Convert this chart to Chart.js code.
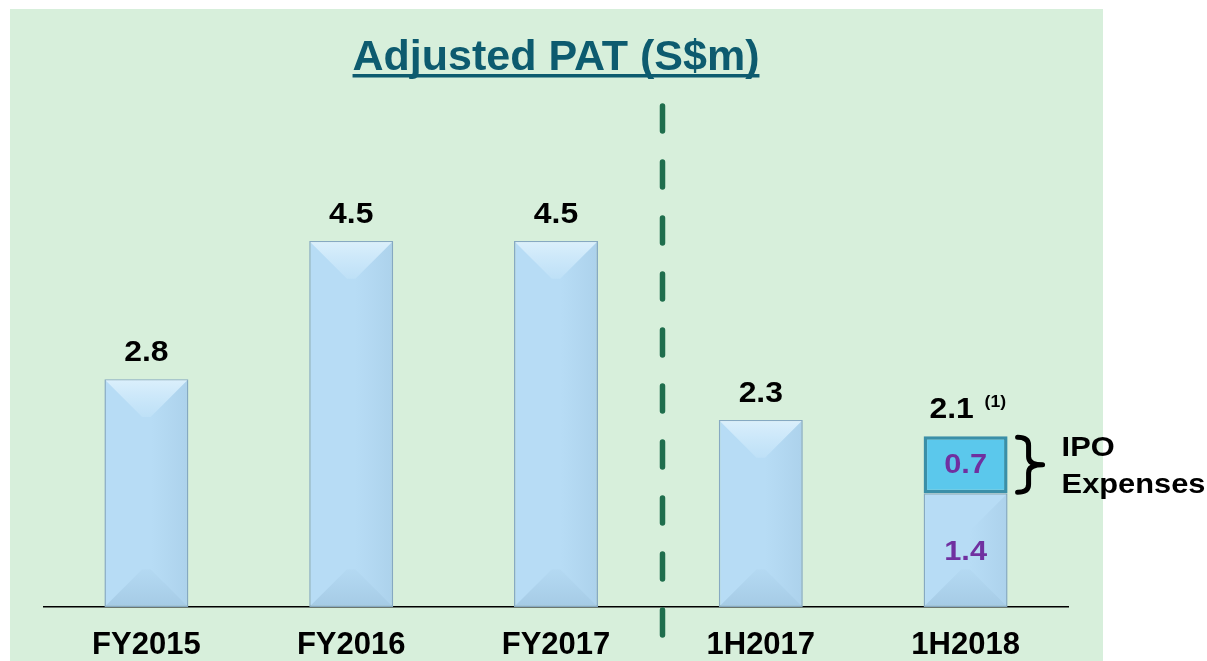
<!DOCTYPE html>
<html><head><meta charset="utf-8">
<script src="https://cdn.jsdelivr.net/npm/chart.js@4"></script>
<style>html,body{margin:0;padding:0;background:#fff;overflow:hidden}#wrap{width:1207px;height:661px;position:relative}</style>
</head><body><div id="wrap"><canvas id="c" width="1207" height="661"></canvas></div>
<script>
const categories = ['FY2015', 'FY2016', 'FY2017', '1H2017', '1H2018'];
const patValues = [2.8, 4.5, 4.5, 2.3, 1.4];
const ipoExpenses = [null, null, null, null, 0.7];
const totalLabels = ['2.8', '4.5', '4.5', '2.3', '2.1'];
const innerLabels = [null, null, null, null, '1.4'];
const ipoLabels = [null, null, null, null, '0.7'];
const titleText = 'Adjusted PAT (S$m)';
const footnoteMark = '(1)';
const bracketText = ['IPO', 'Expenses'];
const yMax = 6;

const FONT = '"Liberation Sans", Arial, sans-serif';
const SX = 1.1;

function wideText(ctx, text, x, y, align) {
  ctx.save();
  ctx.translate(x, y);
  ctx.scale(SX, 1);
  ctx.textAlign = align;
  ctx.fillText(text, 0, 0);
  ctx.restore();
}

const decor = {
  id: 'decor',
  beforeDraw(chart) {
    const ctx = chart.ctx;
    ctx.save();
    ctx.fillStyle = '#ffffff';
    ctx.fillRect(0, 0, chart.width, chart.height);
    ctx.fillStyle = '#d7efdb';
    ctx.fillRect(10, 9, 1093, 652);
    ctx.restore();
  },
  afterDatasetsDraw(chart) {
    const ctx = chart.ctx;
    const meta0 = chart.getDatasetMeta(0);
    ctx.save();
    meta0.data.forEach((bar, i) => {
      const w = bar.width, l = bar.x - w / 2, r = bar.x + w / 2, t = bar.y, b = bar.base;
      const d = w * 0.45;
      if (i !== 4) {
        const g = ctx.createLinearGradient(0, t, 0, t + d);
        g.addColorStop(0, 'rgba(235,248,255,0.7)');
        g.addColorStop(1, 'rgba(220,242,255,0.2)');
        ctx.fillStyle = g;
        ctx.beginPath();
        ctx.moveTo(l + 1, t + 1); ctx.lineTo(r - 1, t + 1); ctx.lineTo(r - d, t + d); ctx.lineTo(l + d, t + d); ctx.closePath();
        ctx.fill();
      }
      const g2 = ctx.createLinearGradient(0, b - d, 0, b);
      g2.addColorStop(0, 'rgba(120,160,190,0.05)');
      g2.addColorStop(1, 'rgba(110,150,180,0.25)');
      ctx.fillStyle = g2;
      ctx.beginPath();
      ctx.moveTo(l + 1, b - 1); ctx.lineTo(r - 1, b - 1); ctx.lineTo(r - d, b - d); ctx.lineTo(l + d, b - d); ctx.closePath();
      ctx.fill();
      const g3 = ctx.createLinearGradient(r - d, 0, r, 0);
      g3.addColorStop(0, 'rgba(120,160,190,0)');
      g3.addColorStop(1, 'rgba(110,150,180,0.15)');
      ctx.fillStyle = g3;
      ctx.beginPath();
      ctx.moveTo(r - 1, t + 1); ctx.lineTo(r - 1, b - 1); ctx.lineTo(r - d, b - d); ctx.lineTo(r - d, t + d); ctx.closePath();
      ctx.fill();
    });
    const xs = chart.scales.x;
    const xd = xs.getPixelForValue(2.52);
    ctx.strokeStyle = '#1f6e4d';
    ctx.lineWidth = 5.5;
    ctx.lineCap = 'round';
    ctx.setLineDash([25, 31]);
    ctx.beginPath();
    ctx.moveTo(xd, 106);
    ctx.lineTo(xd, 640);
    ctx.stroke();
    ctx.setLineDash([]);
    ctx.restore();
  },
  afterDraw(chart) {
    const ctx = chart.ctx;
    const meta0 = chart.getDatasetMeta(0);
    const meta1 = chart.getDatasetMeta(1);
    ctx.save();
    ctx.font = 'bold 43px ' + FONT;
    ctx.fillStyle = '#0d5b6f';
    ctx.textAlign = 'center';
    ctx.textBaseline = 'alphabetic';
    const cx = 556;
    ctx.fillText(titleText, cx, 70);
    const tw = ctx.measureText(titleText).width;
    ctx.fillRect(cx - tw / 2, 74, tw, 3.5);
    ctx.font = 'bold 29px ' + FONT;
    ctx.fillStyle = '#000000';
    meta0.data.forEach((bar, i) => {
      let top = bar.y;
      const seg = meta1.data[i];
      if (ipoExpenses[i] != null && seg) top = seg.y;
      if (i === 4) {
        wideText(ctx, totalLabels[i], bar.x - 14, top - 18, 'center');
        ctx.font = 'bold 16px ' + FONT;
        wideText(ctx, footnoteMark, bar.x + 19, top - 29, 'left');
        ctx.font = 'bold 29px ' + FONT;
      } else {
        wideText(ctx, totalLabels[i], bar.x, top - 18, 'center');
      }
    });
    ctx.fillStyle = '#7030a0';
    ctx.textBaseline = 'middle';
    ctx.font = 'bold 28px ' + FONT;
    meta0.data.forEach((bar, i) => {
      if (innerLabels[i]) wideText(ctx, innerLabels[i], bar.x, (bar.y + bar.base) / 2 + 2, 'center');
      const seg = meta1.data[i];
      if (ipoLabels[i] && seg) wideText(ctx, ipoLabels[i], seg.x, (seg.y + seg.base) / 2 + 1, 'center');
    });
    const seg = meta1.data[4];
    if (seg) {
      const bx = seg.x + seg.width / 2 + 10;
      const t = seg.y, b = seg.base;
      const m = (t + b) / 2;
      ctx.strokeStyle = '#000';
      ctx.lineWidth = 5;
      ctx.lineCap = 'round';
      ctx.lineJoin = 'round';
      ctx.beginPath();
      ctx.moveTo(bx, t + 1);
      ctx.quadraticCurveTo(bx + 11, t + 1, bx + 11, t + 9);
      ctx.lineTo(bx + 11, m - 8);
      ctx.quadraticCurveTo(bx + 11, m, bx + 25, m);
      ctx.quadraticCurveTo(bx + 11, m, bx + 11, m + 8);
      ctx.lineTo(bx + 11, b - 9);
      ctx.quadraticCurveTo(bx + 11, b - 1, bx, b - 1);
      ctx.stroke();
      ctx.fillStyle = '#000';
      ctx.textBaseline = 'alphabetic';
      ctx.font = 'bold 28px ' + FONT;
      wideText(ctx, bracketText[0], bx + 44, m - 9, 'left');
      wideText(ctx, bracketText[1], bx + 44, m + 28, 'left');
    }
    ctx.restore();
  }
};

const ctx = document.getElementById('c').getContext('2d');
new Chart(ctx, {
  type: 'bar',
  data: {
    labels: categories,
    datasets: [
      {
        label: 'Adjusted PAT',
        data: patValues,
        backgroundColor: (c) => {
          const el = c.element;
          if (c.chart.chartArea && el && el.x != null && el.width) {
            const g = c.chart.ctx.createLinearGradient(el.x - el.width / 2, 0, el.x + el.width / 2, 0);
            g.addColorStop(0, '#c3e5fb');
            g.addColorStop(0.5, '#b8ddf6');
            g.addColorStop(1, '#a8cee9');
            return g;
          }
          return '#b7dcf5';
        },
        borderColor: '#86a9c2',
        borderWidth: 1.5,
        borderSkipped: false,
        barPercentage: 0.41,
        categoryPercentage: 1,
        stack: 's'
      },
      {
        label: 'IPO Expenses',
        data: ipoExpenses,
        backgroundColor: '#5bc8ec',
        borderColor: '#3a8fa8',
        borderWidth: 3.5,
        borderSkipped: false,
        barPercentage: 0.41,
        categoryPercentage: 1,
        stack: 's'
      }
    ]
  },
  options: {
    responsive: false,
    animation: false,
    devicePixelRatio: 1,
    layout: { padding: { left: 44, right: 139, top: 119, bottom: 0 } },
    plugins: { legend: { display: false }, title: { display: false }, tooltip: { enabled: false } },
    scales: {
      x: {
        stacked: true,
        grid: { display: false, drawTicks: false },
        border: { display: true, color: '#000', width: 1.5 },
        ticks: { color: '#000', font: { family: FONT, size: 31, weight: 'bold' }, padding: 20, maxRotation: 0 },
        afterFit: (s) => { s.height = 54; }
      },
      y: {
        stacked: true,
        display: false,
        min: 0,
        max: yMax
      }
    }
  },
  plugins: [decor]
});
</script>
</body></html>
